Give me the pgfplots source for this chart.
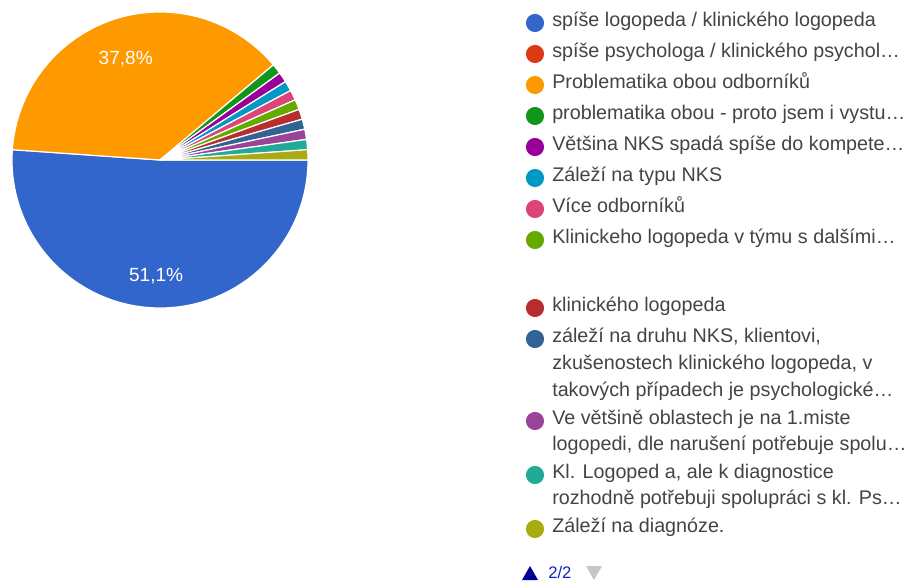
\documentclass[border=0pt]{standalone}
\usepackage{pgfplots}
\pgfplotsset{compat=1.18}
\usepackage{pgfplotstable}
\usepackage{fontspec}
\setmainfont{Liberation Sans}

\definecolor{cA}{HTML}{3366CC}
\definecolor{cB}{HTML}{DC3912}
\definecolor{cC}{HTML}{FF9900}
\definecolor{cD}{HTML}{109618}
\definecolor{cE}{HTML}{990099}
\definecolor{cF}{HTML}{0099C6}
\definecolor{cG}{HTML}{DD4477}
\definecolor{cH}{HTML}{66AA00}
\definecolor{cI}{HTML}{B82E2E}
\definecolor{cJ}{HTML}{316395}
\definecolor{cK}{HTML}{994499}
\definecolor{cL}{HTML}{22AA99}
\definecolor{cM}{HTML}{AAAA11}
\definecolor{txt}{HTML}{444444}
\definecolor{navup}{HTML}{000099}
\definecolor{navtxt}{HTML}{1122CC}

% answer counts (90 responses), in legend order
\pgfplotstableread{
count color
46 cA
0  cB
34 cC
1  cD
1  cE
1  cF
1  cG
1  cH
1  cI
1  cJ
1  cK
1  cL
1  cM
}\piedata

\newcommand\legdot[2]{\fill[#2] (535,#1) circle[radius=6.8pt];}

\begin{document}
\begin{tikzpicture}[x=0.75pt, y=-0.75pt,
  lg/.style={anchor=west, inner sep=0pt, text=txt, text height=0.72em, text depth=0.2em,
    font=\fontsize{14.8pt}{18pt}\selectfont}]
\path[use as bounding box, fill=white] (0,0) rectangle (914,582);

\begin{axis}[
    at={(120pt,-120pt)}, anchor=center,
    x=0.75pt, y=0.75pt,
    xmin=-160, xmax=160, ymin=-160, ymax=160,
    hide axis, clip=false,
]
\pgfplotstablegetrowsof{\piedata}
\pgfmathtruncatemacro\nrows{\pgfplotsretval-1}
\def\cum{0}
\pgfplotsforeachungrouped \i in {0,...,\nrows}{%
  \pgfplotstablegetelem{\i}{count}\of\piedata \let\v\pgfplotsretval
  \pgfplotstablegetelem{\i}{color}\of\piedata \let\c\pgfplotsretval
  \pgfmathsetmacro\a{-\cum*4}% 360/90 degrees per answer, clockwise from 3 o'clock
  \pgfmathsetmacro\d{\v*4}
  \pgfmathsetmacro\xa{148*cos(\a)}
  \pgfmathsetmacro\ya{148*sin(\a)}
  \ifnum\v>0
    \edef\slice{\noexpand\fill[fill=\c, draw=white, line width=0.9pt]
      (axis cs:0,0) -- (axis cs:\xa,\ya) arc[start angle=\a, delta angle=-\d, radius=111pt] -- cycle;}
    \slice
  \fi
  \ifnum\v>9
    \pgfmathsetmacro\m{\a-\d/2}
    \pgfmathsetmacro\lx{111*cos(\m)}
    \pgfmathsetmacro\ly{111*sin(\m)-5}
    \pgfmathsetmacro\p{\v/90*100}
    \edef\lab{\noexpand\node[text=white, font=\noexpand\fontsize{14.3pt}{17pt}\noexpand\selectfont]
      at (axis cs:\lx,\ly) {\noexpand\pgfmathprintnumber[fixed, fixed zerofill, precision=1, use comma, assume math mode=true]{\p}\noexpand\%};}
    \lab
  \fi
  \pgfmathsetmacro\cum{\cum+\v}
}
\end{axis}

% legend
\legdot{23}{cA}  \node[lg] at (552,23)  {spíše logopeda / klinického logopeda};
\legdot{54}{cB}  \node[lg] at (552,54)  {spíše psychologa / klinického psychol…};
\legdot{85}{cC}  \node[lg] at (552,85)  {Problematika obou odborníků};
\legdot{116}{cD} \node[lg] at (552,116) {problematika obou - proto jsem i vystu…};
\legdot{147}{cE} \node[lg] at (552,147) {Většina NKS spadá spíše do kompete…};
\legdot{178}{cF} \node[lg] at (552,178) {Záleží na typu NKS};
\legdot{209}{cG} \node[lg] at (552,209) {Více odborníků};
\legdot{240}{cH} \node[lg] at (552,240) {Klinickeho logopeda v týmu s dalšími…};

\legdot{308}{cI} \node[lg] at (552,308) {klinického logopeda};
\legdot{339}{cJ} \node[lg] at (552,339) {záleží na druhu NKS, klientovi,};
                 \node[lg] at (552,366) {zkušenostech klinického logopeda, v};
                 \node[lg] at (552,393) {takových případech je psychologické…};
\legdot{421}{cK} \node[lg] at (552,421) {Ve většině oblastech je na 1.miste};
                 \node[lg] at (552,447) {logopedi, dle narušení potřebuje spolu…};
\legdot{475}{cL} \node[lg] at (552,475) {Kl. Logoped a, ale k diagnostice};
                 \node[lg] at (552,501) {rozhodně potřebuji spolupráci s kl. Ps…};
\legdot{529}{cM} \node[lg] at (552,529) {Záleží na diagnóze.};

% page navigation
\fill[navup] (522,580) -- (538,580) -- (530,566) -- cycle;
\node[anchor=west, inner sep=0pt, text=navtxt, font=\fontsize{12.5pt}{14pt}\selectfont] at (548,573) {2/2};
\fill[gray!45] (586,566) -- (602,566) -- (594,580) -- cycle;
\end{tikzpicture}
\end{document}
